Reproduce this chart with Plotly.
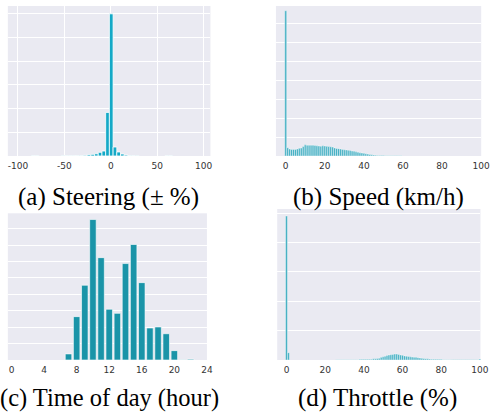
import plotly.graph_objects as go

# ---------------- data ----------------
# (a) Steering histogram: bin centres (± %) and counts (arbitrary units)
steer_bins = [-83.5, -79.5, -51.5, -47.5, -43.5, -39.5, -35.5, -31.5, -27.5, -23.5, -19.5,
              -15.5, -11.5, -7.5, -3.5, 0.5, 4.5, 8.5, 12.5, 16.5, 20.5, 24.5, 28.5, 60.5, 64.5]
steer_vals = [0.15, 0.15, 0.1, 0.15, 0.15, 0.15, 0.15, 0.2, 0.3, 0.55, 0.7,
              0.95, 1.55, 2.1, 18.4, 60.0, 3.8, 1.7, 0.85, 0.4, 0.2, 0.15, 0.1, 0.15, 0.15]

# (b) Speed histogram (km/h), bins of 1 km/h starting at 0
speed_vals = [76.9, 4.4, 3.7, 3.5, 3.5, 3.5, 3.7, 4.1, 4.2, 5.0,
              5.9, 5.7, 5.7, 5.7, 5.7, 5.6, 5.4, 5.3, 5.2, 5.4,
              5.3, 5.1, 5.0, 4.9, 4.7, 4.3, 4.0, 3.9, 3.7, 3.5,
              3.3, 3.2, 3.0, 2.9, 2.6, 2.5, 2.2, 2.0, 1.7, 1.6,
              1.4, 1.2, 1.0, 0.8, 0.6, 0.5, 0.4, 0.3, 0.3, 0.2,
              0.2, 0.15, 0.15, 0.15, 0.15, 0.15, 0.1, 0.1, 0.1, 0.1]
speed_bins = list(range(len(speed_vals)))

# (c) Time of day (hour)
hours = [7, 8, 9, 10, 11, 12, 13, 14, 15, 16, 17, 18, 19, 20, 21, 22]
hour_vals = [3.7, 26.4, 45.5, 85.5, 62.3, 30.9, 28.4, 58.7, 70.3, 47.1, 19.5, 20.1, 16.0, 5.7, 0.2, 0.5]

# (d) Throttle histogram (%), bins of 1 %
throttle_bins = [0, 1] + list(range(26, 101))
throttle_vals = ([49.0, 2.5] +
                 [0.1] * 12 +                       # 26-37
                 [0.25] * 7 +                       # 38-44
                 [0.4, 0.4, 0.5, 0.6, 0.9,          # 45-49
                  1.1, 1.3, 1.5, 1.7, 1.8, 1.9, 2.0, 2.0, 1.9, 1.7,   # 50-59
                  1.6, 1.4, 1.3, 1.2, 1.1, 1.0, 0.95, 0.9, 0.8, 0.7,  # 60-69
                  0.6, 0.5, 0.45, 0.4, 0.3, 0.25, 0.25, 0.25, 0.25, 0.25,  # 70-79
                  0.25, 0.1, 0.1, 0.1, 0.1, 0.1] +   # 80-85
                 [0.05] * 14 +                       # 86-99
                 [0.35])                             # 100

captions = ["(a) Steering (± %)", "(b) Speed (km/h)", "(c) Time of day (hour)", "(d) Throttle (%)"]

# ---------------- figure ----------------
W, H = 500, 414
BG = "#EAEAF2"
TICKFONT = dict(family="DejaVu Sans", size=9, color="#333333")
SERIF = "Liberation Serif, 'Times New Roman', Times, 'DejaVu Serif', serif"

def px(x):
    return x / W

def py(y):
    return 1 - y / H

fig = go.Figure()

fig.add_trace(go.Bar(x=steer_bins, y=steer_vals, width=4, marker=dict(color="#15a9c7", line=dict(color="white", width=0.8)),
                     xaxis="x", yaxis="y"))
fig.add_trace(go.Bar(x=speed_bins, y=speed_vals, width=1, marker=dict(color="#45b0c4", line=dict(color="white", width=0.4)),
                     xaxis="x2", yaxis="y2"))
fig.add_trace(go.Bar(x=hours, y=hour_vals, width=0.8, marker=dict(color="#1a94a8", line=dict(color="rgba(255,255,255,0.6)", width=1)),
                     xaxis="x3", yaxis="y3"))
fig.add_trace(go.Bar(x=throttle_bins, y=throttle_vals, width=1, marker=dict(color="#45b0c4", line=dict(color="white", width=0.4)),
                     xaxis="x4", yaxis="y4"))

common_y = dict(showticklabels=False, showgrid=True, gridcolor="white", gridwidth=1, zeroline=False,
                showline=False, ticks="", dtick=10, tick0=0)
common_x = dict(zeroline=False, showline=False, ticks="", ticklabelstandoff=3,
                tickfont=TICKFONT, gridcolor="white", gridwidth=1)

fig.update_layout(
    width=W, height=H, margin=dict(l=0, r=0, t=0, b=0),
    paper_bgcolor="white", plot_bgcolor=BG, showlegend=False,
    xaxis=dict(domain=[px(8), px(214.3)], range=[-110.9, 107.4], anchor="y",
               tickvals=[-100, -50, 0, 50, 100], ticktext=["-100", "-50", "0", "50", "100"],
               showgrid=True, **common_x),
    yaxis=dict(domain=[py(156), py(6)], range=[0, 63.3], anchor="x", **common_y),
    xaxis2=dict(domain=[px(281), px(490)], range=[-5, 100], anchor="y2",
                tickvals=[0, 20, 40, 60, 80, 100], showgrid=False, **common_x),
    yaxis2=dict(domain=[py(156), py(6)], range=[0, 79.4], anchor="x2", **common_y),
    xaxis3=dict(domain=[px(8), px(210.7)], range=[-0.45, 24.0], anchor="y3",
                tickvals=[0, 4, 8, 12, 16, 20, 24], showgrid=False, **common_x),
    yaxis3=dict(domain=[py(360), py(213.3)], range=[0, 89.3], anchor="x3", **common_y),
    xaxis4=dict(domain=[px(282.3), px(489.3)], range=[-4.8, 100.3], anchor="y4",
                tickvals=[0, 20, 40, 60, 80, 100], showgrid=False, **common_x),
    yaxis4=dict(domain=[py(360), py(209)], range=[0, 51.4], anchor="x4", **common_y),
)

cap_pos = [(110.3, 197.0), (385.5, 197.0), (111.0, 398.0), (384.0, 398.0)]
cap_size = [25, 25, 24.5, 25]
for text, (cx, cy), fs in zip(captions, cap_pos, cap_size):
    fig.add_annotation(text=text, x=px(cx), y=py(cy), xref="paper", yref="paper",
                       xanchor="center", yanchor="middle", showarrow=False,
                       font=dict(family=SERIF, size=fs, color="black"))

fig.write_html("out.html", config={"displayModeBar": False},
               post_script="document.body.style.margin='0';document.body.style.padding='0';")
